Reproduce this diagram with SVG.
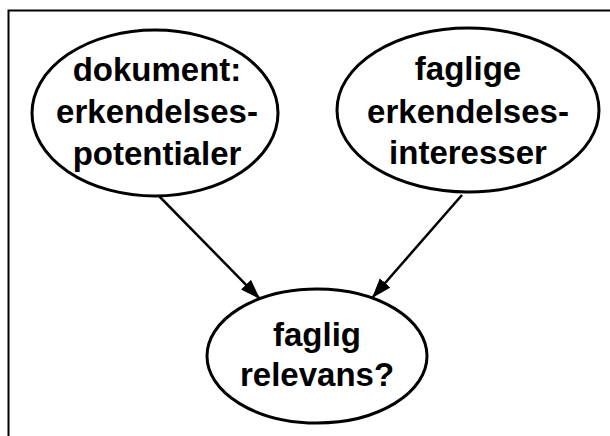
<svg xmlns="http://www.w3.org/2000/svg" width="610" height="436" viewBox="0 0 610 436">
  <style>
    .node ellipse { fill: #ffffff; stroke: #000000; stroke-width: 3; }
    .node text { font-family: "Liberation Sans", Arial, sans-serif; font-weight: bold; font-size: 33px; fill: #000000; text-anchor: middle; }
    .edge { stroke: #000000; stroke-width: 2.5; fill: none; marker-end: url(#arrow); }
    .frame { stroke: #000000; stroke-width: 2; fill: none; }
  </style>
  <defs>
    <marker id="arrow" markerUnits="userSpaceOnUse" markerWidth="22" markerHeight="16" refX="20" refY="7" orient="auto">
      <path d="M0,0 L20,7 L0,14 Z" fill="#000000"/>
    </marker>
  </defs>
  <rect width="610" height="436" fill="#ffffff"/>
  <g id="frame">
    <path class="frame" d="M8.5,436 L8.5,10.5 L610,10.5"/>
  </g>
  <g id="connectors">
    <line class="edge" x1="157" y1="194" x2="260" y2="299"/>
    <line class="edge" x1="462" y1="195" x2="372" y2="298"/>
  </g>
  <g id="node-dokument" class="node">
    <ellipse cx="155" cy="113" rx="123" ry="83"/>
    <text x="157" y="81">dokument:</text>
    <text x="157" y="123">erkendelses-</text>
    <text x="157" y="165">potentialer</text>
  </g>
  <g id="node-faglige" class="node">
    <ellipse cx="468" cy="110" rx="131" ry="82"/>
    <text x="468" y="80">faglige</text>
    <text x="468" y="123">erkendelses-</text>
    <text x="468" y="164">interesser</text>
  </g>
  <g id="node-relevans" class="node">
    <ellipse cx="317" cy="356" rx="110" ry="67"/>
    <text x="317" y="346">faglig</text>
    <text x="317" y="386">relevans?</text>
  </g>
</svg>
